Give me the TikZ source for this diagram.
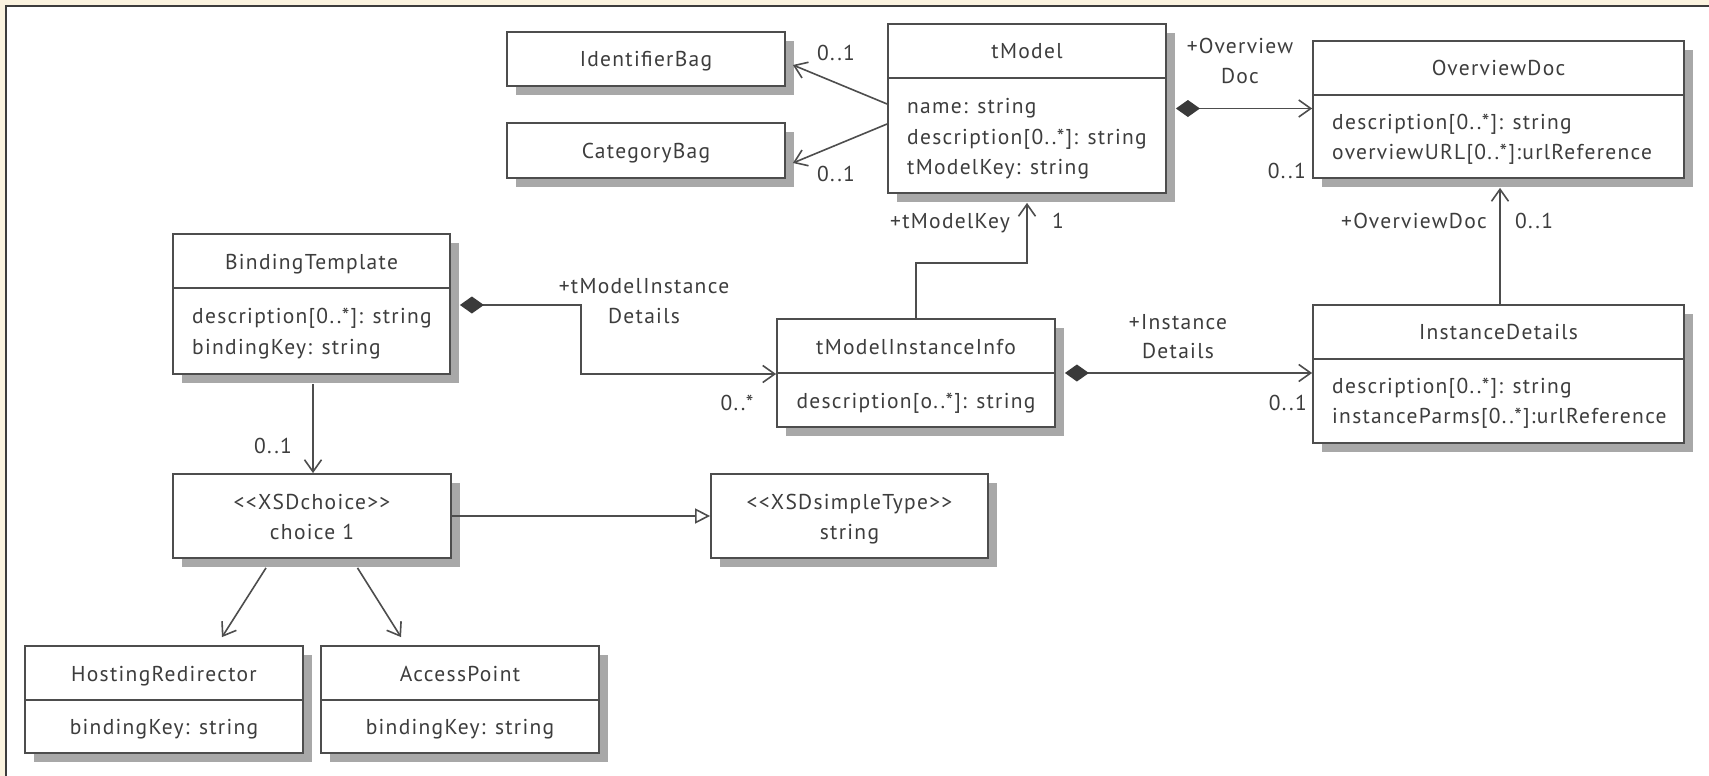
\documentclass[tikz,border=0pt]{standalone}
\usepackage{fontspec}
\setmainfont[LetterSpace=6]{PT Sans}
\usetikzlibrary{arrows.meta,shadows,calc}
\definecolor{bgc}{HTML}{FBF3DF}
\definecolor{framec}{HTML}{3C3C3C}
\definecolor{linec}{HTML}{4D4D4D}
\definecolor{textc}{HTML}{3D3D3D}
\definecolor{shadowc}{HTML}{A8A8A8}
\definecolor{diamc}{HTML}{3A3A3A}
\tikzset{
  box/.style={draw=linec, line width=1.8pt, fill=white, inner sep=0pt,
    general shadow={fill=shadowc, shadow xshift=9pt, shadow yshift=-9pt}},
  sepline/.style={draw=linec, line width=1.8pt},
  txt/.style={font=\fontsize{21.5}{25}\selectfont, text=textc, inner sep=0pt, yshift=-1.5pt},
  conn/.style={draw=linec, line width=1.6pt},
  openarr/.style={-{Straight Barb[length=12pt,width=17pt]}},
  comp/.style={{Diamond[length=24pt,width=17pt,fill=diamc,color=diamc]}-{Straight Barb[length=12pt,width=17pt]}},
  gen/.style={-{Triangle[open,length=15pt,width=15pt,fill=white]}},
}
\newcommand{\lt}{\char"3C\relax}
\newcommand{\gt}{\char"3E\relax}
\begin{document}
\begin{tikzpicture}[x=1pt,y=-1pt]
\useasboundingbox (0,0) rectangle (1709,776);
\fill[bgc] (0,0) rectangle (1709,776);
\fill[white] (6,6) rectangle (1709,776);
\draw[framec, line width=2pt] (6,776) -- (6,6) -- (1709,6);

% boxes
\node[box, minimum width=278pt, minimum height=54pt] (IdB) at (646,59) {};
\node[box, minimum width=278pt, minimum height=55pt] (CatB) at (646,150.5) {};
\node[box, minimum width=278pt, minimum height=169pt] (tModel) at (1027,108.5) {};
\node[box, minimum width=371pt, minimum height=137pt] (OvD) at (1498.5,109.5) {};
\node[box, minimum width=277pt, minimum height=140pt] (BT) at (311.5,304) {};
\node[box, minimum width=278pt, minimum height=108pt] (TMII) at (916,373) {};
\node[box, minimum width=371pt, minimum height=138pt] (ID) at (1498.5,374) {};
\node[box, minimum width=278pt, minimum height=84pt] (XC) at (312,516) {};
\node[box, minimum width=277pt, minimum height=84pt] (XST) at (849.5,516) {};
\node[box, minimum width=278pt, minimum height=107pt] (HR) at (164,699.5) {};
\node[box, minimum width=278pt, minimum height=107pt] (AP) at (460,699.5) {};

% header separators
\foreach \b in {tModel,OvD,BT,TMII,ID,HR,AP}{
  \draw[sepline] ($(\b.north west)+(0,55)$) -- ($(\b.north east)+(0,55)$);
}

% box texts
\node[txt, anchor=base] (IdB-h) at (646,65) {IdentifierBag};
\node[txt, anchor=base] (CatB-h) at (646,157) {CategoryBag};
\node[txt, anchor=base] (tModel-h) at (1027,57.5) {tModel};
\node[txt, anchor=base west] (tModel-a1) at (907,112) {name: string};
\node[txt, anchor=base west] (tModel-a2) at (907,142.5) {description[0..*]: string};
\node[txt, anchor=base west] (tModel-a3) at (907,173) {tModelKey: string};
\node[txt, anchor=base] (OvD-h) at (1498.5,74.5) {OverviewDoc};
\node[txt, anchor=base west] (OvD-a1) at (1332,128) {description[0..*]: string};
\node[txt, anchor=base west] (OvD-a2) at (1332,157.5) {overviewURL[0..*]:urlReference};
\node[txt, anchor=base] (BT-h) at (311.5,267.5) {BindingTemplate};
\node[txt, anchor=base west] (BT-a1) at (192,322) {description[0..*]: string};
\node[txt, anchor=base west] (BT-a2) at (192,352.5) {bindingKey: string};
\node[txt, anchor=base] (TMII-h) at (916,352.5) {tModelInstanceInfo};
\node[txt, anchor=base] (TMII-a1) at (916,407) {description[o..*]: string};
\node[txt, anchor=base] (ID-h) at (1498.5,338) {InstanceDetails};
\node[txt, anchor=base west] (ID-a1) at (1332,392) {description[0..*]: string};
\node[txt, anchor=base west] (ID-a2) at (1332,422) {instanceParms[0..*]:urlReference};
\node[txt, anchor=base] (XC-h) at (312,508) {\lt\lt XSDchoice\gt\gt};
\node[txt, anchor=base] (XC-a1) at (312,538) {choice 1};
\node[txt, anchor=base] (XST-h) at (849.5,508) {\lt\lt XSDsimpleType\gt\gt};
\node[txt, anchor=base] (XST-a1) at (849.5,538) {string};
\node[txt, anchor=base] (HR-h) at (164,679.5) {HostingRedirector};
\node[txt, anchor=base] (HR-a1) at (164,733) {bindingKey: string};
\node[txt, anchor=base] (AP-h) at (460,679.5) {AccessPoint};
\node[txt, anchor=base] (AP-a1) at (460,733) {bindingKey: string};

% connectors
\draw[conn, openarr] ([yshift=4.5pt]tModel.west) -- ([xshift=7pt,yshift=-6pt]IdB.east);
\draw[conn, openarr] ([yshift=-15.5pt]tModel.west) -- ([xshift=7pt,yshift=-12.5pt]CatB.east);
\draw[conn, comp] ([xshift=9pt]tModel.east) coordinate (c1) -- (c1 -| OvD.west);
\draw[conn, openarr] ([xshift=1.5pt]ID.north) -- ([xshift=1.5pt,yshift=-9pt]OvD.south);
\draw[conn, comp] ([xshift=9pt,yshift=-1pt]BT.east) -- ++(121,0) |- ([yshift=-1pt]TMII.west);
\draw[conn, openarr] (TMII.north) -- ++(0,-55) -| ([yshift=-9pt]tModel.south);
\draw[conn, comp] ([xshift=9pt]TMII.east) coordinate (c2) -- (c2 -| ID.west);
\draw[conn, openarr] ([xshift=1.5pt,yshift=-9pt]BT.south) -- ([xshift=1pt]XC.north);
\draw[conn, gen] (XC.east) -- (XST.west);
\draw[conn, openarr] ([xshift=-46pt,yshift=-9pt]XC.south) -- ([xshift=58pt,yshift=8pt]HR.north);
\draw[conn, openarr] ([xshift=45.5pt,yshift=-9pt]XC.south) -- ([xshift=-59pt,yshift=8pt]AP.north);

% connector labels
\node[txt, anchor=base] (L1) at (836,59) {0..1};
\node[txt, anchor=base] (L2) at (836,180) {0..1};
\node[txt, anchor=base] (L3a) at (1240,52) {+Overview};
\node[txt, anchor=base] (L3b) at (1240,82) {Doc};
\node[txt, anchor=base east] (L4) at (1306,177) {0..1};
\node[txt, anchor=base east] (L5) at (1487,227) {+OverviewDoc};
\node[txt, anchor=base west] (L6) at (1515,227) {0..1};
\node[txt, anchor=base west] (L7) at (890,227) {+tModelKey};
\node[txt, anchor=base] (L8) at (1058,227) {1};
\node[txt, anchor=base] (L9a) at (644,292) {+tModelInstance};
\node[txt, anchor=base] (L9b) at (644,322) {Details};
\node[txt, anchor=base] (L10) at (737,409) {0..*};
\node[txt, anchor=base] (L11a) at (1178,328) {+Instance};
\node[txt, anchor=base] (L11b) at (1178,357) {Details};
\node[txt, anchor=base east] (L12) at (1307,409) {0..1};
\node[txt, anchor=base] (L13) at (273,452) {0..1};
\end{tikzpicture}
\end{document}
